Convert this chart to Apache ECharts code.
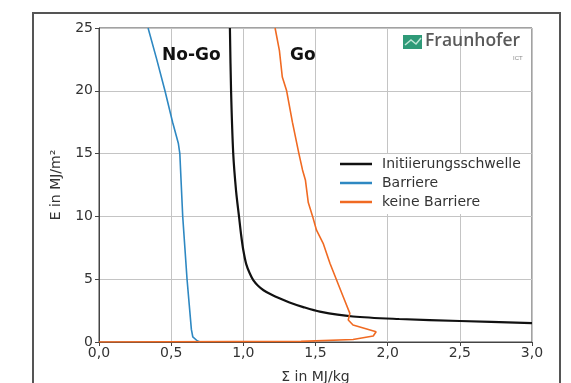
<!DOCTYPE html>
<html>
<head>
<meta charset="utf-8">
<script src="https://cdn.jsdelivr.net/npm/echarts@6/dist/echarts.min.js"></script>
<style>
html,body{margin:0;padding:0;background:#fff;}
#c{width:571px;height:383px;}
</style>
</head>
<body>
<div id="c"></div>
<script>
// Data
var xTicks = [0, 0.5, 1.0, 1.5, 2.0, 2.5, 3.0];
var yTicks = [0, 5, 10, 15, 20, 25];

var thresholdSigma = [0.907, 0.915, 0.93, 0.95, 0.97, 0.985, 1.0, 1.02, 1.045, 1.07, 1.1, 1.14, 1.19, 1.25, 1.32, 1.415, 1.53, 1.76, 2.08, 2.5, 3.0];
var thresholdE     = [25,    20,    15,   12,   10,   8.5,   7.3, 6.2,  5.45,  4.9,  4.5, 4.12, 3.8,  3.48, 3.15, 2.78,  2.42, 2.03, 1.83, 1.67, 1.51];

var barrierSigma = [0.34, 0.40, 0.457, 0.51, 0.55, 0.56, 0.57, 0.58, 0.595, 0.61, 0.625, 0.64, 0.65, 0.66, 0.68, 0.70];
var barrierE     = [25,   22.5, 20,    17.5, 15.8, 15,   12.5, 10,   7.5,   5,    3,     1.0,  0.4,  0.25, 0.1,  0.0];

var noBarrierSigma = [1.22, 1.25, 1.27, 1.30, 1.34, 1.385, 1.41, 1.43, 1.45, 1.48, 1.507, 1.553, 1.60, 1.646, 1.692, 1.738, 1.727, 1.76, 1.92, 1.90, 1.76, 1.40, 0.0];
var noBarrierE     = [25,   23.2, 21.1, 20,   17.5, 15,    13.7, 12.9, 11.1, 10,   8.9,   7.86,  6.27, 4.94,  3.6,   2.28,  1.75,  1.35, 0.82, 0.48, 0.2,  0.05, 0.0];

var seriesNames = ['Initiierungsschwelle', 'Barriere', 'keine Barriere'];
var seriesColors = ['#111111', '#2e88c2', '#f06a22'];

function pairs(xs, ys) { return xs.map(function (x, i) { return [x, ys[i]]; }); }

var chart = echarts.init(document.getElementById('c'), null, {renderer: 'canvas'});
var font = '"DejaVu Sans", "Open Sans", sans-serif';

chart.setOption({
  backgroundColor: '#ffffff',
  animation: false,
  textStyle: {fontFamily: font},
  grid: {left: 99, right: 39, top: 28, bottom: 41, containLabel: false, outerBoundsMode: 'none',
    show: true, borderColor: '#444', borderWidth: 1, backgroundColor: 'transparent'},
  xAxis: {
    type: 'value', min: 0, max: 3, interval: 0.5,
    name: 'Σ in MJ/kg', nameLocation: 'middle', nameGap: 28,
    nameTextStyle: {fontSize: 14, color: '#333', fontFamily: font},
    axisLine: {show: true, lineStyle: {color: '#444', width: 1}},
    axisTick: {show: true, inside: false, length: 4, lineStyle: {color: '#444'}},
    axisLabel: {fontSize: 14, color: '#333', margin: 4, fontFamily: font,
      formatter: function (v) { return v.toFixed(1).replace('.', ','); }},
    splitLine: {show: true, lineStyle: {color: '#c4c4c4', width: 1}}
  },
  yAxis: {
    type: 'value', min: 0, max: 25, interval: 5,
    name: 'E in MJ/m²', nameLocation: 'middle', nameGap: 36,
    nameTextStyle: {fontSize: 14, color: '#333', fontFamily: font},
    axisLine: {show: true, lineStyle: {color: '#444', width: 1}},
    axisTick: {show: true, inside: false, length: 4, lineStyle: {color: '#444'}},
    axisLabel: {fontSize: 14, color: '#333', margin: 6, fontFamily: font},
    splitLine: {show: true, lineStyle: {color: '#c4c4c4', width: 1}}
  },
  legend: {
    orient: 'vertical', left: 337, top: 154,
    itemWidth: 32, itemHeight: 2.5, itemGap: 5,
    icon: 'rect',
    backgroundColor: '#ffffff',
    padding: [3, 6, 5, 3],
    textStyle: {fontSize: 14, color: '#333', fontFamily: font, padding: [0, 0, 0, 5]},
    data: seriesNames
  },
  series: [
    {name: seriesNames[0], type: 'line', data: pairs(thresholdSigma, thresholdE), smooth: 0.3,
      showSymbol: false, lineStyle: {color: seriesColors[0], width: 2.2}, itemStyle: {color: seriesColors[0]}, z: 3},
    {name: seriesNames[1], type: 'line', data: pairs(barrierSigma, barrierE),
      showSymbol: false, lineStyle: {color: seriesColors[1], width: 1.6}, itemStyle: {color: seriesColors[1]}, z: 4},
    {name: seriesNames[2], type: 'line', data: pairs(noBarrierSigma, noBarrierE),
      showSymbol: false, lineStyle: {color: seriesColors[2], width: 1.6}, itemStyle: {color: seriesColors[2]}, z: 5}
  ],
  graphic: [
    {type: 'rect', shape: {x: 33, y: 13, width: 527, height: 380}, style: {fill: 'none', stroke: '#555', lineWidth: 2}, z: 100},
    {type: 'text', left: 162, top: 47, style: {text: 'No-Go', font: 'bold 17px ' + font, fill: '#111'}, z: 100},
    {type: 'text', left: 290, top: 47, style: {text: 'Go', font: 'bold 17px ' + font, fill: '#111'}, z: 100},
    {type: 'rect', shape: {x: 403, y: 35, width: 19, height: 14}, style: {fill: '#2f9a78'}, z: 100},
    {type: 'polyline', shape: {points: [[405, 45], [411, 40], [416, 44], [421, 38]]}, style: {stroke: '#bfe6d6', lineWidth: 1.5, fill: 'none'}, z: 101},
    {type: 'text', left: 425, top: 32, style: {text: 'Fraunhofer', font: '600 17.5px "Open Sans", sans-serif', fill: '#5a5a5a'}, z: 100},
    {type: 'text', left: 513, top: 55, style: {text: 'ICT', font: '6px sans-serif', fill: '#888'}, z: 100}
  ]
});
</script>
</body>
</html>
